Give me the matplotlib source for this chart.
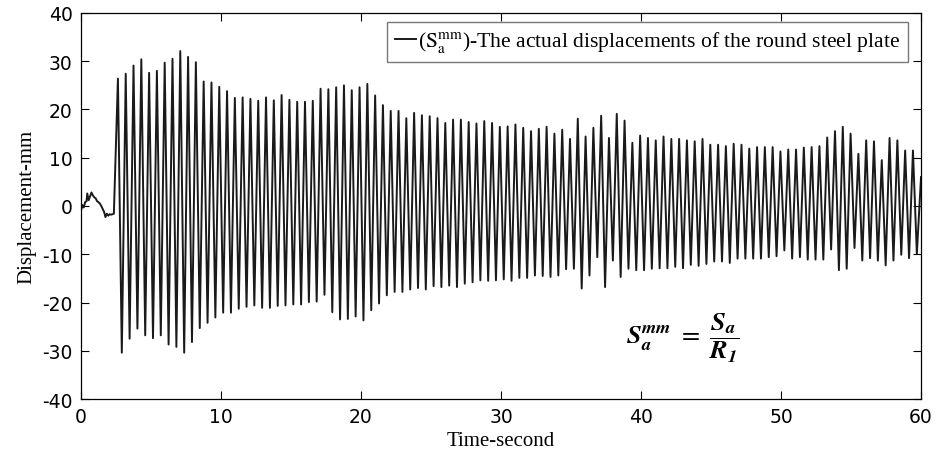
import numpy as np
import matplotlib.pyplot as plt

# quiet stretch before the plate starts swinging (time s, displacement mm)
lead_t = [0.0, 0.1, 0.2, 0.3, 0.4, 0.45, 0.55, 0.65, 0.75, 0.85, 0.95, 1.05,
          1.15, 1.25, 1.35, 1.45, 1.55, 1.65, 1.75, 1.85, 1.95, 2.05, 2.15, 2.25, 2.35]
lead_mm = [-1.0, 0.2, -0.3, 0.8, 1.0, 2.6, 1.2, 2.0, 2.8, 2.2, 1.8, 1.6,
           1.0, 0.8, 0.5, 0.0, -0.6, -1.2, -2.3, -1.6, -2.0, -1.7, -1.8, -1.7, -1.6]

# crest and trough of every swing
peak_mm = [26.4, 27.4, 29.1, 30.4, 27.6, 28.0, 29.7, 30.5, 32.1, 30.9, 29.8, 25.8, 25.6, 24.7, 23.8,
           22.4, 22.5, 22.2, 21.8, 22.5, 21.9, 23.0, 22.0, 21.6, 21.6, 21.8, 24.3, 24.2, 24.6, 25.0, 24.0,
           24.6, 25.3, 22.9, 20.9, 19.7, 19.7, 18.2, 19.3, 18.8, 18.6, 18.2, 17.2, 17.9, 17.9, 17.4,
           17.1, 17.6, 17.2, 16.4, 16.5, 16.9, 16.2, 15.5, 16.0, 16.4, 15.0, 15.8, 13.9, 18.1, 14.4, 16.2,
           18.7, 14.1, 19.1, 17.7, 13.1, 14.6, 14.1, 13.6, 14.4, 13.9, 13.9, 13.6, 13.4, 13.9, 12.7,
           12.7, 12.4, 12.9, 12.7, 11.9, 12.2, 12.2, 12.2, 11.3, 11.7, 11.7, 12.1, 12.2, 12.4, 14.2,
           15.5, 16.4, 15.0, 10.8, 13.6, 13.4, 9.5, 14.1, 13.6, 11.5, 11.5]
trough_mm = [-30.4, -27.5, -25.4, -26.8, -27.4, -26.8, -28.7, -29.2, -30.4, -28.2, -25.3, -24.2, -23.1, -22.1, -22.1,
             -21.3, -20.9, -20.6, -21.1, -21.1, -20.7, -20.6, -20.4, -20.4, -19.9, -19.8, -18.4, -22.0, -23.5, -23.4,
             -22.9, -23.7, -21.6, -20.2, -18.5, -17.8, -17.8, -17.3, -17.0, -17.3, -16.6, -16.8, -16.5, -16.8, -16.1, -15.8,
             -15.4, -15.5, -15.4, -15.2, -15.5, -14.9, -14.9, -14.4, -14.5, -14.7, -14.4, -13.1, -13.0, -17.1, -14.4,
             -10.6, -16.8, -11.3, -14.7, -13.0, -13.3, -13.3, -13.0, -12.9, -12.9, -12.6, -12.9, -12.2, -12.4, -12.0,
             -11.5, -11.5, -11.8, -10.9, -10.9, -10.9, -10.9, -10.6, -10.4, -9.2, -10.9, -10.6, -11.1, -11.1, -11.1, -9.0,
             -13.3, -13.0, -8.7, -11.3, -10.8, -11.3, -12.3, -11.3, -10.1, -10.8, -9.9]
first_peak_s = 2.64
cycle_s = 0.5567
end_s, end_mm = 60.0, 6.0

x_ticks = [0, 10, 20, 30, 40, 50, 60]
y_ticks = [-40, -30, -20, -10, 0, 10, 20, 30, 40]

plt.rcParams['mathtext.fontset'] = 'stix'
plt.rcParams['axes.unicode_minus'] = False

# line through the crest/trough points in time order
peak_t = first_peak_s + cycle_s * np.arange(len(peak_mm))
trough_t = peak_t + cycle_s / 2
swing_t = np.column_stack([peak_t, trough_t]).ravel()
swing_mm = np.column_stack([peak_mm, trough_mm]).ravel()
t = np.concatenate([lead_t, swing_t, [end_s]])
d = np.concatenate([lead_mm, swing_mm, [end_mm]])

fig = plt.figure(figsize=(9.36, 4.6), dpi=100)
ax = fig.add_axes([0.0865, 0.1304, 0.8975, 0.8392])

ax.plot(t, d, color='#1a1a1a', lw=1.4, solid_joinstyle='round',
        label=r'($\mathrm{S}_{\mathrm{a}}^{\mathrm{mm}}$)-The actual displacements of the round steel plate')

ax.set_xlim(0, 60)
ax.set_ylim(-40, 40)
ax.set_xticks(x_ticks)
ax.set_yticks(y_ticks)
ax.tick_params(direction='in', top=True, right=True, length=6, width=0.8,
               labelsize=13.5, pad=6)
for s in ax.spines.values():
    s.set_linewidth(0.9)

ax.set_xlabel('Time-second', family='Liberation Serif', fontsize=15, labelpad=3)
ax.set_ylabel('Displacement-mm', family='Liberation Serif', fontsize=15, labelpad=4)

leg = ax.legend(loc='upper right', bbox_to_anchor=(0.9845, 0.977), borderaxespad=0,
                handlelength=1.0, handletextpad=0.1, borderpad=0.35, fancybox=False,
                prop={'family': 'Liberation Serif', 'size': 15.6})
leg.get_frame().set_edgecolor('#555555')
leg.get_frame().set_linewidth(1.0)

ax.text(43.0, -27.2, r'$\mathbfit{S_a^{mm}}\ =\ \dfrac{\mathbfit{S_a}}{\mathbfit{R_1}}$',
        ha='center', va='center', fontsize=19)

fig.savefig('out.png', dpi=100)
